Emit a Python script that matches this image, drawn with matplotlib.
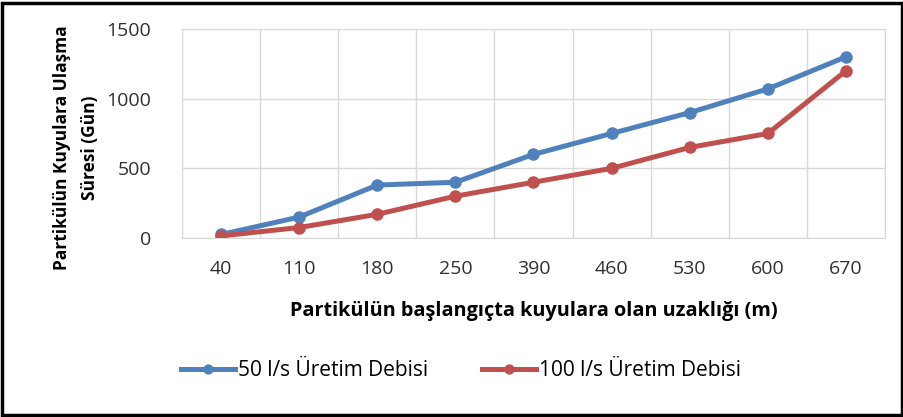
import numpy as np
import matplotlib.pyplot as plt
from matplotlib.patches import Rectangle

plt.rcParams['font.family'] = ['Open Sans', 'DejaVu Sans']

# Uzaklıklar (m) ve ulaşma süreleri (gün)
mesafeler = ['40', '110', '180', '250', '390', '460', '530', '600', '670']
debi_50 = [25, 150, 380, 400, 600, 750, 900, 1070, 1300]
debi_100 = [15, 75, 170, 300, 400, 500, 650, 750, 1200]

mavi = '#4F81BD'
kirmizi = '#C0504D'

fig = plt.figure(figsize=(9.04, 4.17), dpi=100)
ax = fig.add_axes([0.2013, 0.4293, 0.7777, 0.5012])

x = np.arange(len(mesafeler))
ax.plot(x, debi_50, color=mavi, lw=3.6, marker='o', ms=8, label='50 l/s Üretim Debisi')
ax.plot(x, debi_100, color=kirmizi, lw=3.6, marker='o', ms=8, label='100 l/s Üretim Debisi')

ax.set_xlim(-0.5, len(mesafeler) - 0.5)
ax.set_ylim(0, 1500)
ax.set_yticks([0, 500, 1000, 1500])
ax.set_xticks(x)
ax.set_xticklabels(mesafeler)
ax.set_xticks(np.arange(-0.5, len(mesafeler)), minor=True)
ax.grid(True, which='minor', axis='x', color='#d9d9d9', lw=1)
ax.grid(True, which='major', axis='y', color='#d9d9d9', lw=1)
ax.set_axisbelow(True)
ax.tick_params(which='both', length=0, labelsize=14, colors='#303030')
ax.tick_params(axis='x', pad=16)
ax.tick_params(axis='y', pad=22)
for s in ax.spines.values():
    s.set_color('#d9d9d9')

ax.set_xlabel('Partikülün başlangıçta kuyulara olan uzaklığı (m)', fontsize=14.3,
              fontweight='bold')
ax.xaxis.set_label_coords(0.5, -0.30)
ax.set_ylabel('Partikülün Kuyulara Ulaşma\nSüresi (Gün)', fontsize=12.5,
              fontweight='bold', linespacing=1.75)
ax.yaxis.set_label_coords(-0.118, 0.43)

fig.legend(loc='center', bbox_to_anchor=(0.51, 0.112), ncol=2, frameon=False,
           fontsize=15, handlelength=2.6, columnspacing=2.6, handletextpad=0.15,
           markerscale=0.8)

# Dış çerçeve
fig.patches.append(Rectangle((0.002, 0.004), 0.996, 0.99, transform=fig.transFigure,
                             fill=False, ec='black', lw=2.5))

fig.savefig('out.png', dpi=100)
plt.close(fig)
